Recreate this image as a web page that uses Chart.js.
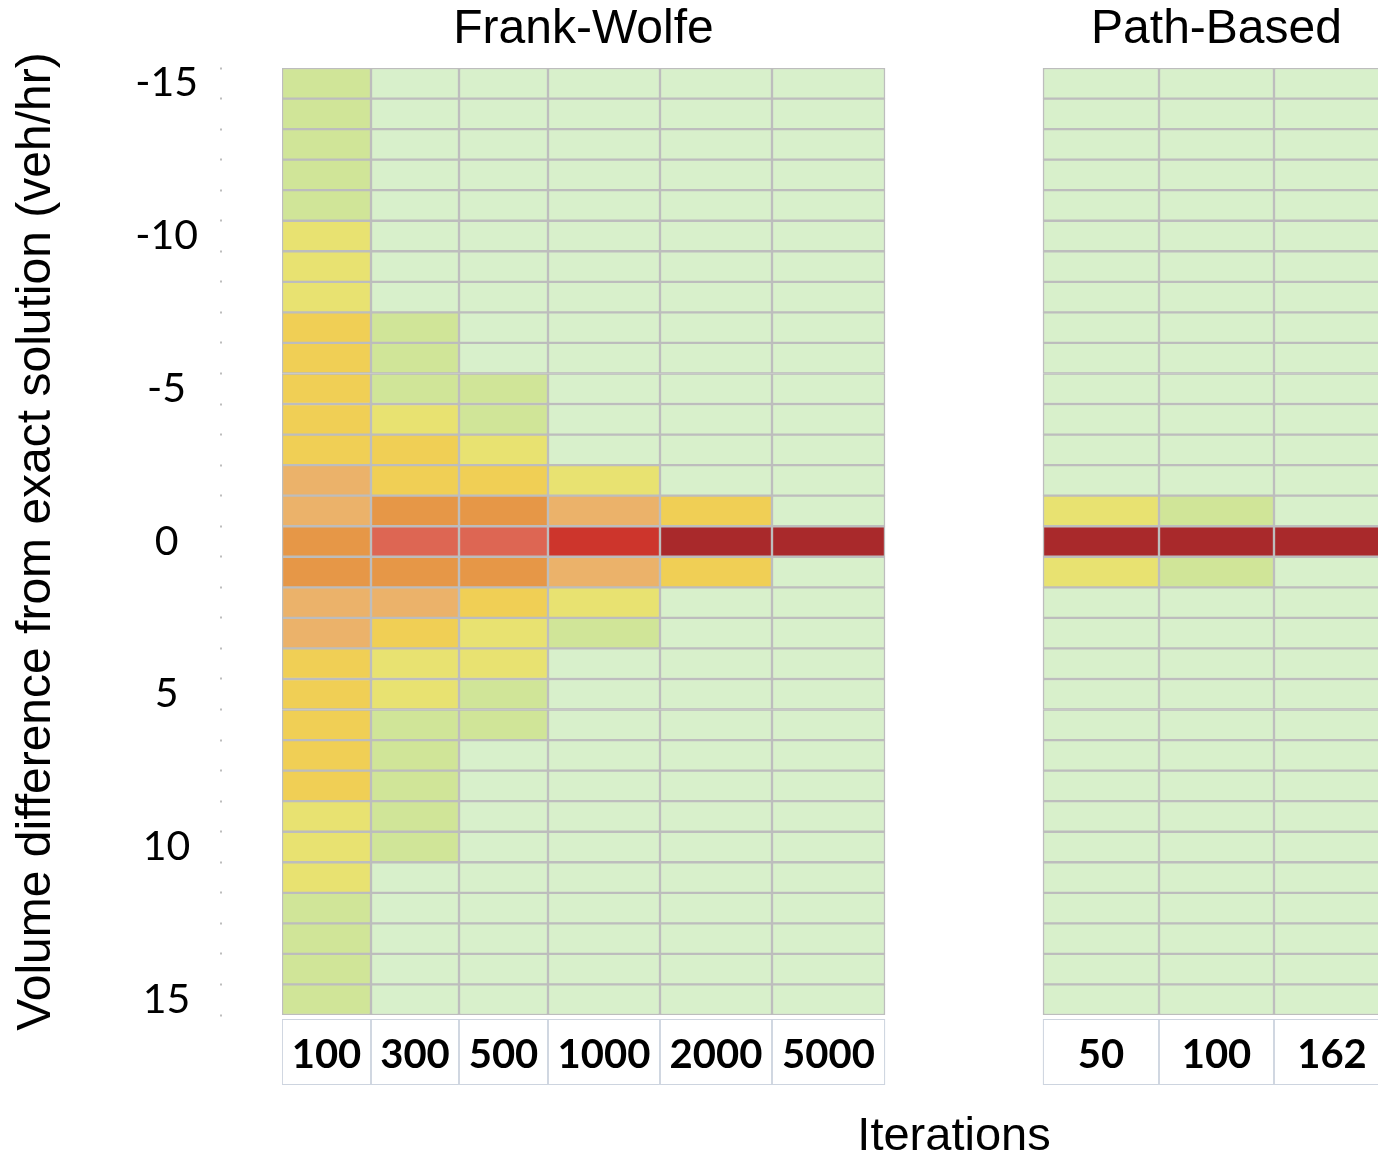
<!DOCTYPE html>
<html>
<head>
<meta charset="utf-8">
<script src="https://cdn.jsdelivr.net/npm/chart.js@4.4.1/dist/chart.umd.min.js"></script>
<style>
  html, body { margin: 0; padding: 0; background: #fff; overflow: hidden; width: 1378px; height: 1156px; }
  canvas { position: absolute; left: 0; }
  #cells { top: 0; }
  #iters { top: 1015px; }
</style>
</head>
<body>
<canvas id="cells" width="1626" height="1156"></canvas>
<canvas id="iters" width="1626" height="160"></canvas>
<script>
// rows of the heat map: volume difference from the exact solution (veh/hr)
const rowValues = [-15, -14, -13, -12, -11, -10, -9, -8, -7, -6, -5, -4, -3, -2, -1, 0,
                   1, 2, 3, 4, 5, 6, 7, 8, 9, 10, 11, 12, 13, 14, 15];
const yTickLabels = [-15, -10, -5, 0, 5, 10, 15];

const panelTitles = ['Frank-Wolfe', 'Path-Based'];
const fwIterations = ['100', '300', '500', '1000', '2000', '5000'];
const pbIterations = ['50', '100', '162'];

// colour level of every cell (0 = none ... 8 = most links), one array per column, top row first
const fw100  = [1,1,1,1,1, 2,2,2, 3,3,3,3,3, 4,4, 5, 5, 4,4, 3,3,3,3,3, 2,2,2, 1,1,1,1];
const fw300  = [0,0,0,0,0,0,0,0, 1,1,1,2,3,3,5,6,5,4,3,2,2,1,1,1,1,1, 0,0,0,0,0];
const fw500  = [0,0,0,0,0,0,0,0,0,0, 1,1,2,3,5,6,5,3,2,2,1,1, 0,0,0,0,0,0,0,0,0];
const fw1000 = [0,0,0,0,0,0,0,0,0,0,0,0,0, 2,4,7,4,2,1, 0,0,0,0,0,0,0,0,0,0,0,0];
const fw2000 = [0,0,0,0,0,0,0,0,0,0,0,0,0,0, 3,8,3, 0,0,0,0,0,0,0,0,0,0,0,0,0,0];
const fw5000 = [0,0,0,0,0,0,0,0,0,0,0,0,0,0,0, 8, 0,0,0,0,0,0,0,0,0,0,0,0,0,0,0];
const pb50   = [0,0,0,0,0,0,0,0,0,0,0,0,0,0, 2,8,2, 0,0,0,0,0,0,0,0,0,0,0,0,0,0];
const pb100  = [0,0,0,0,0,0,0,0,0,0,0,0,0,0, 1,8,1, 0,0,0,0,0,0,0,0,0,0,0,0,0,0];
const pb162  = [0,0,0,0,0,0,0,0,0,0,0,0,0,0,0, 8, 0,0,0,0,0,0,0,0,0,0,0,0,0,0,0];

const levelColors = ['#D8F0CB', '#D0E598', '#E8E271', '#F0CF55', '#EBB26A',
                     '#E69747', '#DD6653', '#CD352C', '#A9292B'];

// layout of the shared x axis (scale units = px of the plot area)
const fwColWidths = [89, 88, 89, 112, 112, 113];
const pbColWidths = [116, 115, 116];
const panelGap = 158;
const xSpan = 1344;

const yTitle = 'Volume difference from exact solution (veh/hr)';
const gridLine = '#BDBDBD';

Chart.defaults.font.family = "'Liberation Sans', Arial, sans-serif";
Chart.defaults.color = '#000';

// keeps an axis at a fixed size and stops its labels from padding the plot area
const fixSize = (w, h) => s => {
    if (w !== null) s.width = w;
    if (h !== null) s.height = h;
    s.paddingTop = s.paddingBottom = s.paddingLeft = s.paddingRight = 0;
};

// build the columns with their x extent
const columns = [];
let cursor = 0;
const panelCenters = [];
[[fwIterations, fwColWidths, [fw100, fw300, fw500, fw1000, fw2000, fw5000]],
 [pbIterations, pbColWidths, [pb50, pb100, pb162]]].forEach(([labels, widths, levels], p) => {
    const panelStart = cursor;
    labels.forEach((label, i) => {
        columns.push({ label, levels: levels[i], start: cursor, end: cursor + widths[i] });
        cursor += widths[i];
    });
    panelCenters.push((panelStart + cursor) / 2);
    if (p === 0) cursor += panelGap;
});
const colCenters = columns.map(c => (c.start + c.end) / 2);
const rowEdges = rowValues.map(v => v - 0.5).concat([rowValues[rowValues.length - 1] + 0.5]);
const yMin = rowEdges[0];
const yMax = rowEdges[rowEdges.length - 1];

// ---- heat map cells ----
new Chart(document.getElementById('cells'), {
    type: 'bar',
    data: {
        datasets: columns.map(col => ({
            label: col.label,
            data: rowValues.map(r => ({ y: r, x: [col.start, col.end] })),
            backgroundColor: col.levels.map(l => levelColors[l]),
            borderColor: gridLine,
            borderWidth: 1.5,
            borderSkipped: false,
            grouped: false,
            barPercentage: 1,
            categoryPercentage: 1
        }))
    },
    options: {
        indexAxis: 'y',
        responsive: false,
        animation: false,
        events: [],
        layout: { padding: { left: 0, top: 0, right: 0, bottom: 141 } },
        plugins: { legend: { display: false }, tooltip: { enabled: false } },
        scales: {
            x: { type: 'linear', min: 0, max: xSpan, display: false },
            xTop: {
                type: 'linear', position: 'top', min: 0, max: xSpan,
                afterBuildTicks: s => { s.ticks = panelCenters.map(v => ({ value: v })); },
                afterFit: fixSize(null, 68),
                grid: { display: false, drawTicks: false },
                border: { display: false },
                ticks: {
                    autoSkip: false, maxRotation: 0, minRotation: 0, padding: 9,
                    font: { size: 48 },
                    callback: (v, i) => panelTitles[i]
                }
            },
            y: {
                type: 'linear', position: 'left', weight: 1, reverse: true, min: yMin, max: yMax,
                offset: false,
                afterBuildTicks: s => { s.ticks = yTickLabels.map(v => ({ value: v })); },
                afterFit: fixSize(198, null),
                grid: { display: false, drawTicks: false, offset: false },
                border: { display: false },
                ticks: {
                    crossAlign: 'center', padding: 0, autoSkip: false,
                    font: { family: 'Lato', size: 41 },
                    callback: v => String(v)
                },
                title: {
                    display: true, text: yTitle,
                    font: { size: 48 },
                    padding: { top: 8, bottom: 0 }
                }
            },
            yDots: {
                type: 'linear', position: 'left', weight: 0, reverse: true, min: yMin, max: yMax,
                offset: false,
                afterBuildTicks: s => { s.ticks = rowEdges.map(v => ({ value: v })); },
                afterFit: fixSize(84, null),
                ticks: { display: false },
                border: { display: false },
                grid: {
                    display: true, drawOnChartArea: false, drawTicks: true, offset: false,
                    tickLength: 62, tickWidth: 2, tickColor: gridLine, tickBorderDash: [2, 200]
                }
            }
        }
    }
});

// ---- iteration label boxes and axis title ----
new Chart(document.getElementById('iters'), {
    type: 'bar',
    data: {
        datasets: [{
            data: columns.map(c => ({ y: 0, x: [c.start, c.end] })),
            backgroundColor: '#FFFFFF',
            borderColor: '#CDD4DF',
            borderWidth: 1.25,
            borderSkipped: false,
            grouped: false,
            barPercentage: 1,
            categoryPercentage: 1
        }]
    },
    options: {
        indexAxis: 'y',
        responsive: false,
        animation: false,
        events: [],
        layout: { padding: { left: 282, top: 4, right: 0, bottom: 0 } },
        plugins: { legend: { display: false }, tooltip: { enabled: false } },
        scales: {
            y: {
                type: 'linear', min: -0.5, max: 0.5, display: false, offset: false,
                afterBuildTicks: s => { s.ticks = [{ value: 0 }]; }
            },
            xLab: {
                type: 'linear', position: 'bottom', weight: 0, min: 0, max: xSpan,
                afterBuildTicks: s => { s.ticks = colCenters.map(v => ({ value: v })); },
                afterFit: fixSize(null, 0),
                grid: { display: false, drawTicks: false },
                border: { display: false },
                ticks: {
                    mirror: true, z: 1, padding: 6, autoSkip: false, maxRotation: 0, minRotation: 0,
                    font: { family: 'Lato', weight: 'bold', size: 40 },
                    callback: (v, i) => columns[i].label
                }
            },
            x: {
                type: 'linear', position: 'bottom', weight: 1, min: 0, max: xSpan,
                afterFit: fixSize(null, 90),
                grid: { display: false, drawTicks: false },
                border: { display: false },
                ticks: { display: false },
                title: {
                    display: true, text: 'Iterations',
                    font: { size: 47 },
                    padding: { top: 0, bottom: 10 }
                }
            }
        }
    }
});
</script>
</body>
</html>
